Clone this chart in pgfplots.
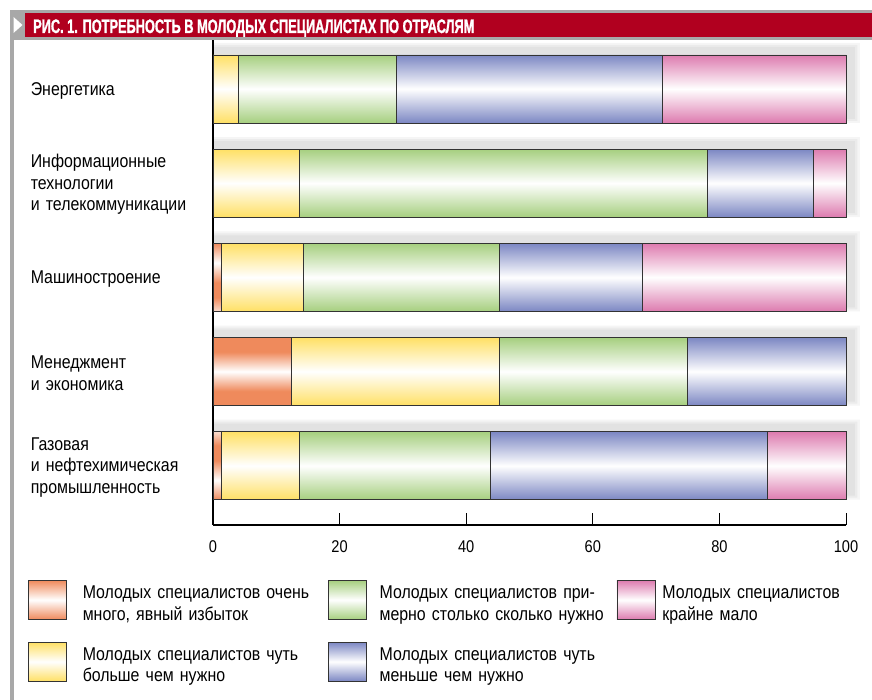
\documentclass[border=0pt]{standalone}
\usepackage{fontspec}
\setmainfont{Liberation Sans}[FakeStretch=0.86]
\newfontfamily\titlefont{Liberation Sans}[FakeStretch=0.655, FakeBold=1.2]
\usepackage{pgfplots}
\usepackage{pgfplotstable}
\pgfplotsset{compat=1.18}
\definecolor{cO}{HTML}{EF8A5C}
\definecolor{cY}{HTML}{FFE065}
\definecolor{cG}{HTML}{A6CF7F}
\definecolor{cB}{HTML}{7C87C3}
\definecolor{cP}{HTML}{DD7BAF}
\definecolor{tred}{HTML}{B1001F}
\definecolor{fgray}{HTML}{A8A8A8}
% one vertical shading per series: colour -> white -> colour across each of the five bars
\newcommand{\barshading}[2]{%
\pgfdeclareverticalshading{#1}{100bp}{color(0bp)=(#2); color(25bp)=(#2); color(28.82bp)=(white); color(32.64bp)=(#2);
 color(35.59bp)=(#2); color(39.41bp)=(white); color(43.23bp)=(#2);
 color(46.18bp)=(#2); color(50bp)=(white); color(53.82bp)=(#2);
 color(56.77bp)=(#2); color(60.59bp)=(white); color(64.41bp)=(#2);
 color(67.35bp)=(#2); color(71.18bp)=(white); color(75bp)=(#2); color(100bp)=(#2)}}
\barshading{shO}{cO}
\barshading{shY}{cY}
\barshading{shG}{cG}
\barshading{shB}{cB}
\barshading{shP}{cP}
\tikzset{
  lbar/.style={top color=#1, bottom color=#1, middle color=white, draw=black!80, line width=0.8pt},
  sbar/.style={shading=#1, draw=black!80, line width=0.8pt}}
\newcommand{\lf}{\fontsize{18.5}{21.5}\selectfont}
\pgfplotstableread{
y O Y G B P S1 S2 S3
0 0 4 25 42 29 102.2 101.8 101.4
1 0 13.6 64.5 16.8 5.1 102.2 101.8 101.4
2 1.3 13 31 22.6 32.1 102.2 101.8 101.4
3 12.4 32.9 29.7 25 0 102.2 101.8 101.4
4 1.4 12.3 30.1 43.8 12.4 102.2 101.8 101.4
}\data
\begin{document}
\begin{tikzpicture}[x=1pt,y=1pt]
\path (0,0) rectangle (872,-700);
\fill[fgray] (10,-10) rectangle (872,-40);
\fill[tred] (25,-13) rectangle (872,-37);
\fill[fgray] (10,-40) rectangle (13.5,-700);
\fill[white] (13.5,-17) -- (22.5,-25) -- (13.5,-33) -- cycle;
\node[anchor=base west, text=white, inner sep=0pt, font=\titlefont\bfseries\fontsize{19.5}{20}\selectfont] at (33,-33) {РИС. 1. ПОТРЕБНОСТЬ В МОЛОДЫХ СПЕЦИАЛИСТАХ ПО ОТРАСЛЯМ};
\begin{axis}[
  at={(213pt,-525pt)}, anchor=south west,
  width=633pt, height=485pt, scale only axis,
  xmin=0, xmax=100, ymin=-0.52, ymax=4.63, y dir=reverse,
  hide axis, clip=false]
  \addplot[xbar, draw=none, fill=black, fill opacity=0.04, bar width=80pt, bar shift=6pt] table[x=S1, y=y] {\data};
  \addplot[xbar, draw=none, fill=black, fill opacity=0.04, bar width=76pt, bar shift=6pt] table[x=S2, y=y] {\data};
  \addplot[xbar, draw=none, fill=black, fill opacity=0.04, bar width=72pt, bar shift=6pt] table[x=S3, y=y] {\data};
\end{axis}
\begin{axis}[
  at={(213pt,-525pt)}, anchor=south west,
  width=633pt, height=485pt, scale only axis,
  xmin=0, xmax=100, ymin=-0.52, ymax=4.63, y dir=reverse,
  xbar stacked, bar width=68pt,
  axis x line*=bottom, axis y line*=left,
  axis line style={-, line width=1.2pt, black},
  xtick={0,20,40,60,80,100},
  tick align=inside, major tick length=12pt,
  xtick style={line width=0.9pt, black},
  ytick={0,1,2,3,4}, ytick style={draw=none},
  yticklabels={Энергетика, {Информационные\\технологии\\и телекоммуникации}, Машиностроение, {Менеджмент\\и экономика}, {Газовая\\и нефтехимическая\\промышленность}},
  yticklabel style={font=\lf, text width=182pt, align=left, inner sep=0pt, yshift=-1.5pt},
  xticklabel style={font=\fontsize{17}{18}\selectfont, yshift=-12pt, /pgf/number format/assume math mode=true},
  legend image code/.code={\draw[#1] (0pt,-19.5pt) rectangle (38pt,19.5pt);},
  legend columns=3,
  legend style={at={(axis description cs:-0.2923,-0.1134)}, anchor=north west,
    draw=none, fill=none, inner sep=0pt, outer sep=0pt, row sep=22pt,
    nodes={font=\lf, align=left, inner sep=0pt, anchor=center, yshift=7pt},
    /tikz/column 1/.style={column sep=16pt},
    /tikz/column 2/.style={column sep=13pt},
    /tikz/column 3/.style={column sep=13pt},
    /tikz/column 4/.style={column sep=5pt},
    /tikz/column 5/.style={column sep=7pt}},
  clip=false]
  \addplot[sbar=shO, forget plot] table[x=O, y=y] {\data};
  \addplot[sbar=shY, forget plot] table[x=Y, y=y] {\data};
  \addplot[sbar=shG, forget plot] table[x=G, y=y] {\data};
  \addplot[sbar=shB, forget plot] table[x=B, y=y] {\data};
  \addplot[sbar=shP, forget plot] table[x=P, y=y] {\data};
  \addlegendimage{lbar=cO}
  \addlegendentry[text width=232pt]{Молодых специалистов очень\\много, явный избыток}
  \addlegendimage{lbar=cG}
  \addlegendentry[text width=232pt]{Молодых специалистов при-\\мерно столько сколько нужно}
  \addlegendimage{lbar=cP}
  \addlegendentry[text width=190pt]{Молодых специалистов\\крайне мало}
  \addlegendimage{lbar=cY}
  \addlegendentry[text width=232pt]{Молодых специалистов чуть\\больше чем нужно}
  \addlegendimage{lbar=cB}
  \addlegendentry[text width=232pt]{Молодых специалистов чуть\\меньше чем нужно}
\end{axis}
\end{tikzpicture}
\end{document}
